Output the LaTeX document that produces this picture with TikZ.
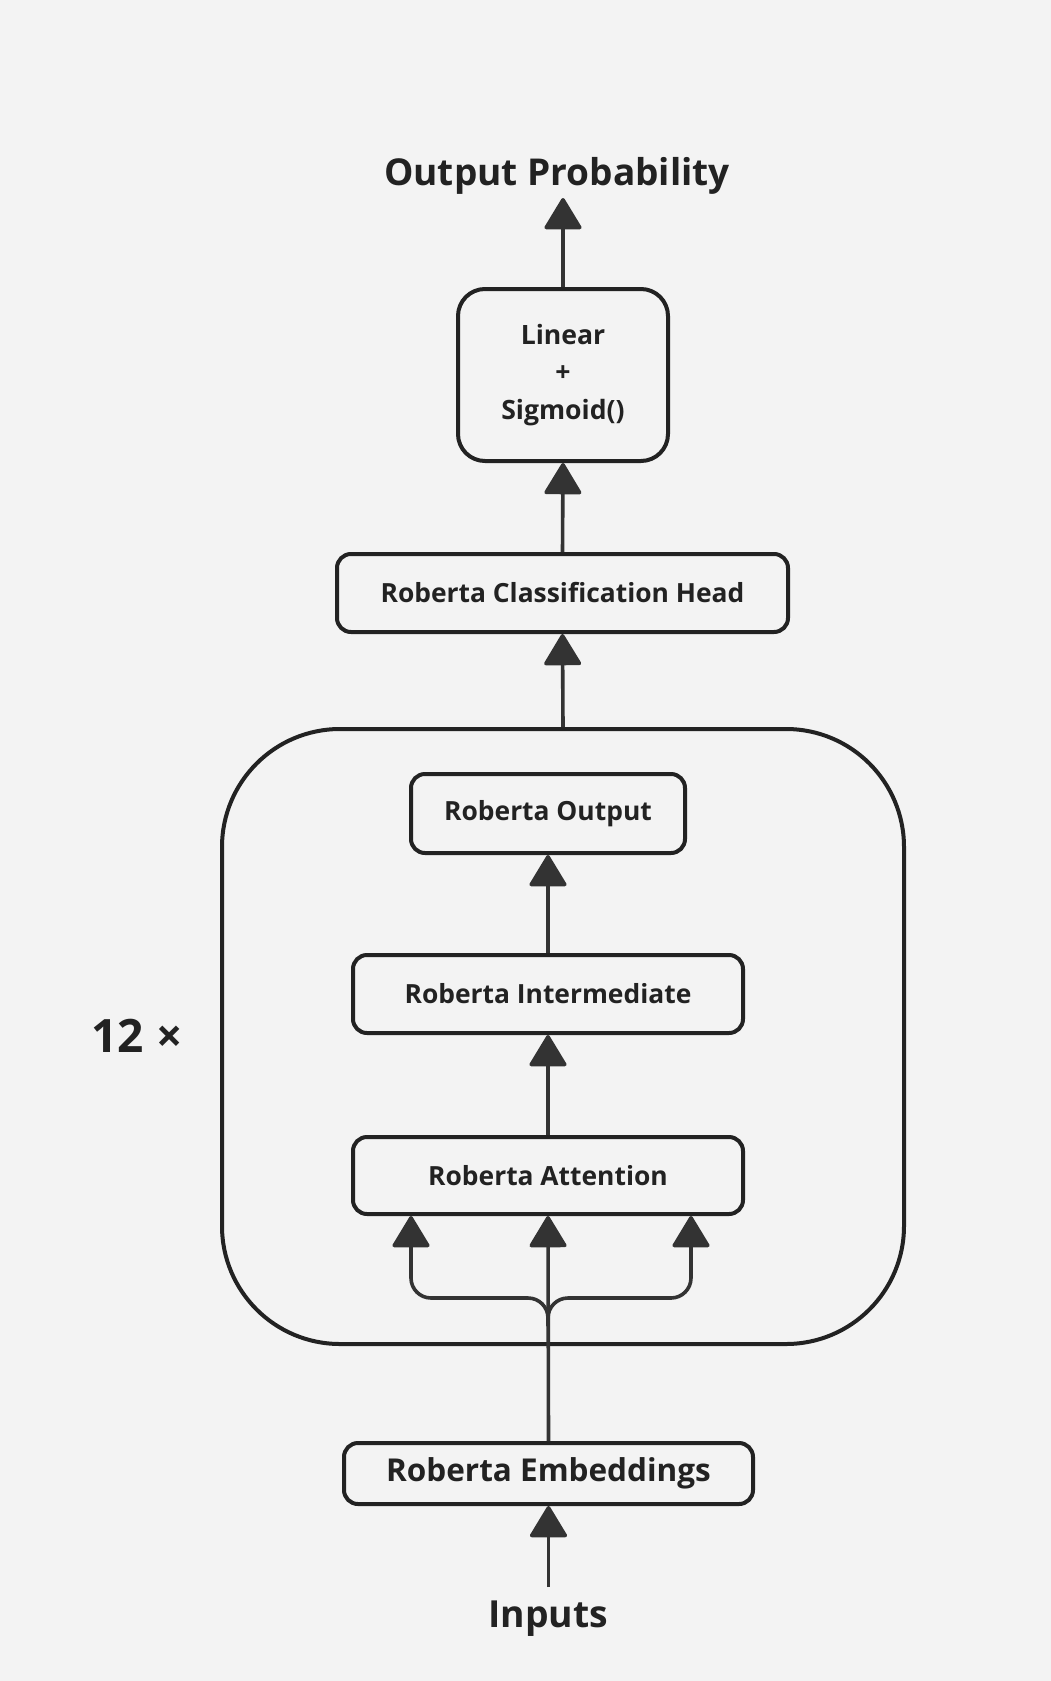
\documentclass[tikz,border=0pt]{standalone}
\usepackage{fontspec}
\setmainfont{Open Sans}
\usetikzlibrary{arrows.meta,calc}
\definecolor{bg}{HTML}{F3F3F3}
\definecolor{ink}{HTML}{222222}
\definecolor{arr}{HTML}{333333}
\begin{document}
\begin{tikzpicture}[x=1pt,y=-1pt,
  box/.style={draw=ink,line width=4pt,rounded corners=14pt,inner sep=0pt,align=center,
    font=\fontsize{26.4}{31}\selectfont\bfseries,text=ink},
  conn/.style={draw=arr,line width=3.6pt,-{Triangle[round,length=33pt,width=39pt]}},
  lbl/.style={font=\fontsize{37}{44}\selectfont\bfseries,text=ink,inner sep=0pt}]
\fill[bg] (0,0) rectangle (1051,1681);
\useasboundingbox (0,0) rectangle (1051,1681);

\node[box,minimum width=682pt,minimum height=615pt,rounded corners=118pt] (blk) at (563,1036.5) {};
\node[box,minimum width=210pt,minimum height=172pt,rounded corners=27pt,
  font=\fontsize{26.6}{37.5}\selectfont\bfseries] (lin) at (563,375) {Linear\\+\\Sigmoid()};
\node[box,minimum width=451pt,minimum height=78pt] (cls) at (562.5,593) {Roberta Classification Head};
\node[box,minimum width=274pt,minimum height=79pt] (out) at (548,813.5) {Roberta Output};
\node[box,minimum width=390pt,minimum height=78pt] (int) at (548,994) {Roberta Intermediate};
\node[box,minimum width=390pt,minimum height=77pt] (att) at (548,1175.5) {Roberta Attention};
\node[box,minimum width=409pt,minimum height=61pt,font=\fontsize{31.5}{36}\selectfont\bfseries] (emb) at (548.5,1473.5) {Roberta Embeddings};

\node[lbl] (op) at (557,176) {Output Probability};
\node[lbl,font=\fontsize{37.3}{42}\selectfont\bfseries] (inp) at (548,1618.5) {Inputs};
\node[lbl,font=\fontsize{46}{50}\selectfont\bfseries] (rep) at (137,1036) {12 ×};

\coordinate (optip) at (563,198);
\coordinate (intail) at (548.5,1587);
\coordinate (fork) at (548,1298);
\coordinate (attL) at (411,1216);
\coordinate (attR) at (691,1216);

\draw[conn] (lin.north) -- (optip);
\draw[conn] (cls.north) -- (lin.south);
\draw[conn] (563,727) -- (cls.south);
\draw[conn] (int.north) -- (out.south);
\draw[conn] (att.north) -- (int.south);
\draw[conn] (emb.north) -- (att.south);
\draw[conn,rounded corners=20pt] ($(fork)+(0,28)$) -- (fork) -- (attL|-fork) -- (attL);
\draw[conn,rounded corners=20pt] ($(fork)+(0,28)$) -- (fork) -- (attR|-fork) -- (attR);
\draw[conn] (intail) -- (emb.south);
\end{tikzpicture}
\end{document}
